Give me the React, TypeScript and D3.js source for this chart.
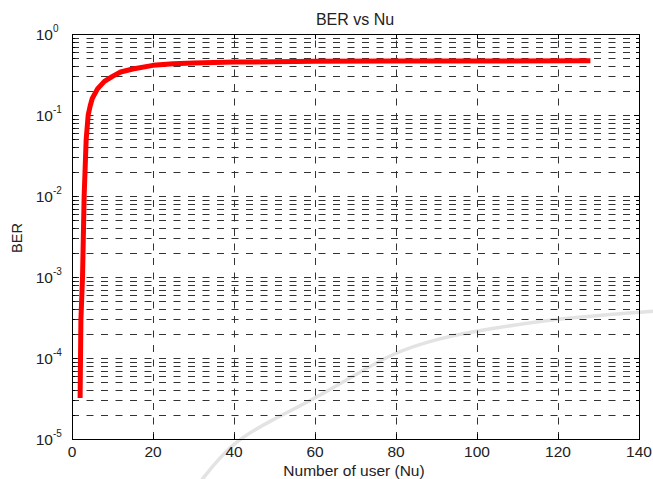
import React from 'react';
import * as d3 from 'd3';

// number of users and the BER
const nuValues = [2, 2.2, 2.6, 3, 3.5, 4, 4.5, 5, 6.3, 8, 10, 12, 15, 20, 25, 30, 40, 50, 60, 80, 100, 128];
const berValues = [3.2e-5, 3e-4, 1e-3, 1e-2, 0.05, 0.1, 0.13, 0.16, 0.21, 0.26, 0.3, 0.34, 0.37, 0.41, 0.43, 0.44, 0.45, 0.455, 0.46, 0.463, 0.465, 0.467];
const xTicks = [0, 20, 40, 60, 80, 100, 120, 140];
const yExponents = [0, -1, -2, -3, -4, -5];

const W = 653, H = 479;
const m = { left: 72, right: 639, top: 34, bottom: 439 };
const font = 'Liberation Sans, Arial, sans-serif';

export default function App() {
    const x = d3.scaleLinear().domain([0, 140]).range([m.left, m.right]);
    const y = d3.scaleLog().domain([1e-5, 1]).range([m.bottom, m.top]);

    // every 1..9 x 10^k between the decades
    const minorY: number[] = [];
    for (let k = -5; k < 0; k++) for (let j = 1; j < 10; j++) minorY.push(j * Math.pow(10, k));

    const line = d3.line<number>()
        .x((d, i) => x(nuValues[i]))
        .y(d => y(d));

    // faint watermark stroke from the source scan
    const mark = d3.line().curve(d3.curveBasis)([
        [200, 482], [232, 442], [272, 420], [312, 400], [352, 377], [392, 353], [440, 338], [482, 330], [560, 318], [656, 311]
    ]);

    return (
        <svg width={W} height={H} style={{ position: 'absolute', left: 0, top: 0, background: '#fff' }}>
            <path d={mark || ''} fill="none" stroke="#e3e3e3" strokeWidth={3.5} />

            {/* dashed grid */}
            <g stroke="#333" strokeWidth={1} strokeDasharray="7,7.5" fill="none">
                {minorY.map((v, i) => (
                    <line key={'h' + i} x1={m.left} x2={m.right} y1={Math.round(y(v)) + 0.5} y2={Math.round(y(v)) + 0.5} />
                ))}
                {xTicks.slice(1, -1).map(t => (
                    <line key={'v' + t} x1={Math.round(x(t)) + 0.5} x2={Math.round(x(t)) + 0.5} y1={m.bottom} y2={m.top} />
                ))}
            </g>

            {/* ticks on all four sides */}
            <g stroke="#000" strokeWidth={1}>
                {minorY.map((v, i) => {
                    const len = i % 9 === 0 ? 5 : 3;
                    const yy = Math.round(y(v)) + 0.5;
                    return (
                        <g key={'t' + i}>
                            <line x1={m.left} x2={m.left + len} y1={yy} y2={yy} />
                            <line x1={m.right} x2={m.right - len} y1={yy} y2={yy} />
                        </g>
                    );
                })}
                {xTicks.map(t => {
                    const xx = Math.round(x(t)) + 0.5;
                    return (
                        <g key={'xt' + t}>
                            <line x1={xx} x2={xx} y1={m.bottom} y2={m.bottom - 5} />
                            <line x1={xx} x2={xx} y1={m.top} y2={m.top + 5} />
                        </g>
                    );
                })}
            </g>

            <path d={line(berValues) || ''} fill="none" stroke="#ff0000" strokeWidth={5} strokeLinejoin="round" />

            <rect x={m.left + 0.5} y={m.top + 0.5} width={m.right - m.left} height={m.bottom - m.top} fill="none" stroke="#000" strokeWidth={1} />

            <g fontFamily={font} fill="#222">
                {xTicks.map(t => (
                    <text key={'xl' + t} x={x(t)} y={457} fontSize={15.5} textAnchor="middle">{t}</text>
                ))}
                {yExponents.map(e => (
                    <text key={'yl' + e} x={53} y={y(Math.pow(10, e)) + 6} fontSize={15.5} textAnchor="end">
                        10
                        <tspan x={53} dy={-8} fontSize={10} textAnchor="start">{e}</tspan>
                    </text>
                ))}
                <text x={355} y={25} fontSize={16} textAnchor="middle">BER vs Nu</text>
                <text x={354} y={476} fontSize={15.5} textAnchor="middle">Number of user (Nu)</text>
                <text transform="translate(22,238) rotate(-90)" fontSize={14.5} textAnchor="middle">BER</text>
            </g>
        </svg>
    );
}
